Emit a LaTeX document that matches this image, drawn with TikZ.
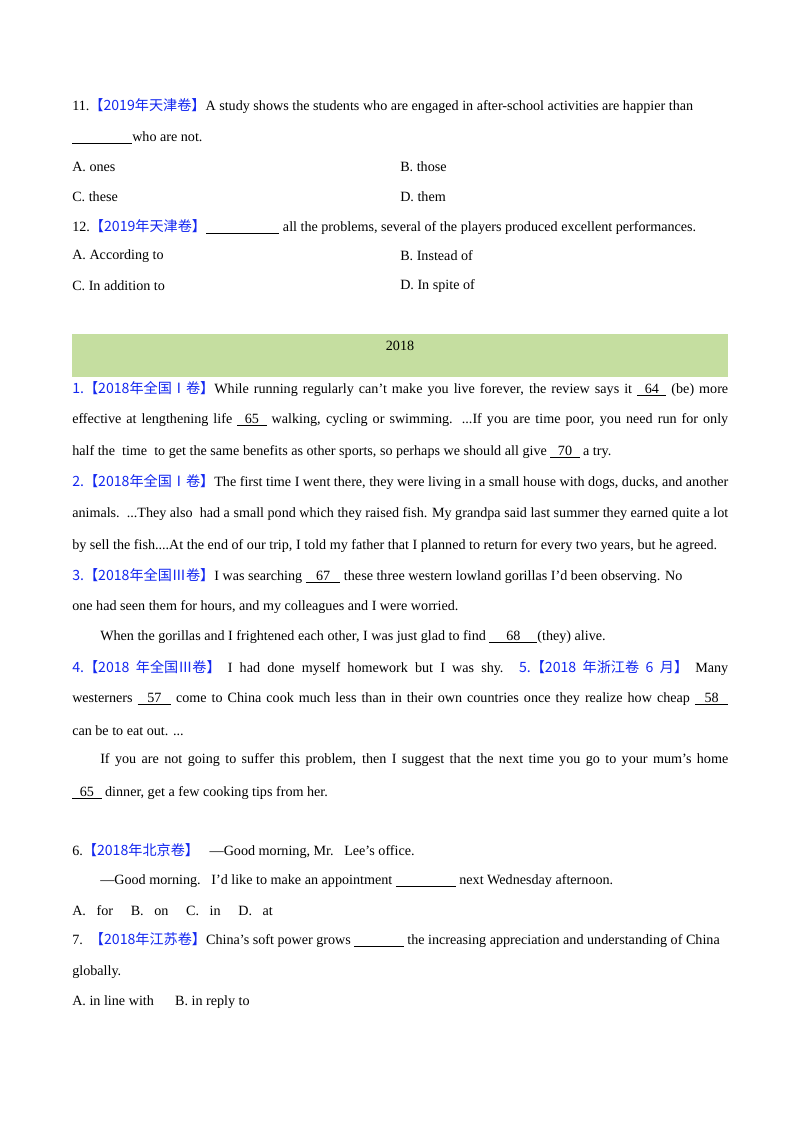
\documentclass[tikz,border=0pt]{standalone}
\usepackage{fontspec}
\setmainfont{Liberation Serif}
\newfontfamily\cjk{Noto Sans CJK SC}
\definecolor{qblue}{RGB}{20,40,240}
\definecolor{band}{RGB}{197,222,160}
\newcommand{\tg}[1]{{\color{qblue}\cjk #1}}
\newcommand{\bl}[2]{\underline{\makebox[#1pt]{#2}}}
\newcommand{\jl}[1]{\makebox[492pt][s]{#1}}
\begin{document}
\begin{tikzpicture}[x=0.75pt,y=-0.75pt,
  tx/.style={anchor=west,inner sep=0pt,font=\fontsize{10.6}{12}\selectfont}]
\useasboundingbox (0,0) rectangle (800,1132);
\fill[white] (0,0) rectangle (800,1132);
\fill[band] (72,334) rectangle (728,377);
\node[tx] (l1) at (72,106) {11.\tg{【2019年天津卷】}A study shows the students who are engaged in after-school activities are happier than};
\node[tx] (l2) at (72,138) {\bl{45}{}who are not.};
\node[tx] (a1) at (72,167) {A. ones};
\node[tx] (b1) at (400,167) {B. those};
\node[tx] (c1) at (72,197) {C. these};
\node[tx] (d1) at (400,197) {D. them};
\node[tx] (l3) at (72,227) {12.\tg{【2019年天津卷】}\bl{55}{} all the problems, several of the players produced excellent performances.};
\node[tx] (a2) at (72,256) {A. According to};
\node[tx] (b2) at (400,256) {B. Instead of};
\node[tx] (c2) at (72,286) {C. In addition to};
\node[tx] (d2) at (400,286) {D. In spite of};
\node[tx,anchor=center] (yr) at (400,346) {2018};
\node[tx] (p1) at (72,389) {\jl{\tg{1.【2018年全国Ⅰ卷】}While running regularly can’t make you live forever, the review says it \bl{22}{64} (be) more}};
\node[tx] (p2) at (72,420) {\jl{effective at lengthening life \bl{22}{65} walking, cycling or swimming. ...If you are time poor, you need run for only}};
\node[tx] (p3) at (72,452) {half the\ \ time\ \ to get the same benefits as other sports, so perhaps we should all give \bl{22}{70} a try.};
\node[tx] (p4) at (72,482) {\jl{\tg{2.【2018年全国Ⅰ卷】}The first time I went there, they were living in a small house with dogs, ducks, and another}};
\node[tx] (p5) at (72,514) {\jl{animals.\ \ ...They also\ \ had a small pond which they raised fish. My grandpa said last summer they earned quite a lot}};
\node[tx] (p6) at (72,546) {by sell the fish....At the end of our trip, I told my father that I planned to return for every two years, but he agreed.};
\node[tx] (p7) at (72,576) {\tg{3.【2018年全国Ⅲ卷】}I was searching \bl{26}{67} these three western lowland gorillas I'd been observing. No};
\node[tx] (p8) at (72,607) {one had seen them for hours, and my colleagues and I were worried.};
\node[tx] (p9) at (100,637) {When the gorillas and I frightened each other, I was just glad to find \bl{36}{68}(they) alive.};
\node[tx] (p10) at (72,668) {\jl{\tg{4.【2018 年全国Ⅲ卷】} I had done myself homework but I was shy. \tg{5.【2018 年浙江卷 6 月】} Many}};
\node[tx] (p11) at (72,699) {\jl{westerners \bl{25}{57} come to China cook much less than in their own countries once they realize how cheap \bl{25}{58}}};
\node[tx] (p12) at (72,731) {can be to eat out. ...};
\node[tx] (p13) at (100,760) {\makebox[471pt][s]{If you are not going to suffer this problem, then I suggest that the next time you go to your mum’s home}};
\node[tx] (p14) at (72,793) {\bl{22}{65} dinner, get a few cooking tips from her.};
\node[tx] (q6) at (72,851) {6.\tg{【2018年北京卷】}\ \ \ —Good morning, Mr.\ \ \ Lee’s office.};
\node[tx] (q6b) at (100,881) {—Good morning.\ \ \ I’d like to make an appointment \bl{45}{} next Wednesday afternoon.};
\node[tx] (q6c) at (72,911) {A.\ \ \ for\ \ \ \ \ B.\ \ \ on\ \ \ \ \ C.\ \ \ in\ \ \ \ \ D.\ \ \ at};
\node[tx] (q7) at (72,940) {7.\ \ \tg{【2018年江苏卷】}China’s soft power grows \bl{37}{} the increasing appreciation and understanding of China};
\node[tx] (q7b) at (72,972) {globally.};
\node[tx] (q7c) at (72,1002) {A. in line with\ \ \ \ \ \ B. in reply to};
\end{tikzpicture}
\end{document}
